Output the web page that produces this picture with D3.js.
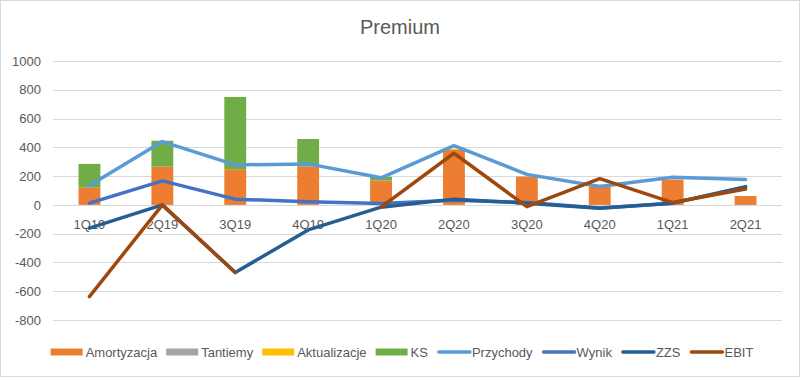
<!DOCTYPE html>
<html>
<head>
<meta charset="utf-8">
<script src="https://cdn.jsdelivr.net/npm/d3@7"></script>
<style>
  body { margin: 0; background: #fff; }
  text { font-family: "Liberation Sans", Arial, sans-serif; fill: #595959; }
</style>
</head>
<body>
<div id="chart"></div>
<script>
// categories
var kwartaly = ["1Q19", "2Q19", "3Q19", "4Q19", "1Q20", "2Q20", "3Q20", "4Q20", "1Q21", "2Q21"];

// series slupkowe (stacked)
var amortyzacja  = [120, 266, 248, 266, 169, 385, 197, 125, 176, 62];
var tantiemy     = [0, 0, 0, 0, 0, 0, 0, 0, 0, 0];
var aktualizacje = [0, 0, 0, 0, 0, 5, 0, 15, 0, 0];
var ks           = [165, 180, 502, 192, 26, 0, 0, 0, 0, 0];

// series liniowe
var przychody = [134, 440, 278, 285, 188, 412, 212, 128, 192, 176];
var wynik     = [12, 167, 40, 21, 10, 32, 17, -22, 12, 122];
var zzs       = [-162, 0, -470, -174, -16, 40, 12, -23, 12, 127];
var ebit      = [-637, 0, -470, null, -16, 359, -12, 182, 16, 110];

var yTicks = [-800, -600, -400, -200, 0, 200, 400, 600, 800, 1000];

var W = 801, H = 378;
var plot = {left: 53, right: 782, top: 61, bottom: 320};

var svg = d3.select("#chart").append("svg")
    .attr("width", W)
    .attr("height", H);

// ramka wykresu
svg.append("rect")
    .attr("x", 0.5).attr("y", 0.5)
    .attr("width", W - 2).attr("height", H - 2)
    .attr("fill", "#fff")
    .attr("stroke", "#d9d9d9");

// tytul
svg.append("text")
    .attr("x", 400)
    .attr("y", 34)
    .attr("text-anchor", "middle")
    .style("font-size", "20px")
    .text("Premium");

// skale
var x = d3.scaleBand().domain(kwartaly).range([plot.left, plot.right]);
var y = d3.scaleLinear().domain([-800, 1000]).range([plot.bottom, plot.top]);

// siatka
svg.append("g")
    .selectAll("line")
    .data(yTicks)
    .enter().append("line")
    .attr("x1", plot.left)
    .attr("x2", plot.right)
    .attr("y1", function(d) { return Math.round(y(d)) + 0.5; })
    .attr("y2", function(d) { return Math.round(y(d)) + 0.5; })
    .attr("stroke", "#d9d9d9")
    .attr("stroke-width", 1);

// os Y
var yAxis = svg.append("g")
    .attr("transform", "translate(" + plot.left + ",0)")
    .call(d3.axisLeft(y).tickValues(yTicks).tickSize(0).tickPadding(12)
        .tickFormat(function(d) { return String(d); }));
yAxis.select(".domain").remove();
yAxis.selectAll("text")
    .style("font-size", "13px")
    .attr("fill", "#595959");

// slupki
var serieSlupki = [
    {nazwa: "Amortyzacja", wartosci: amortyzacja, kolor: "#ED7D31"},
    {nazwa: "Tantiemy", wartosci: tantiemy, kolor: "#A5A5A5"},
    {nazwa: "Aktualizacje", wartosci: aktualizacje, kolor: "#FFC000"},
    {nazwa: "KS", wartosci: ks, kolor: "#70AD47"}
];

var tabela = kwartaly.map(function(k, i) {
    var row = {kw: k};
    serieSlupki.forEach(function(s) { row[s.nazwa] = s.wartosci[i]; });
    return row;
});
var stos = d3.stack().keys(serieSlupki.map(function(s) { return s.nazwa; }))(tabela);

var barW = x.bandwidth() * 0.3;
svg.append("g")
    .selectAll("g")
    .data(stos)
    .enter().append("g")
    .attr("fill", function(d, i) { return serieSlupki[i].kolor; })
    .selectAll("rect")
    .data(function(d) { return d; })
    .enter().append("rect")
    .attr("x", function(d) { return x(d.data.kw) + (x.bandwidth() - barW) / 2; })
    .attr("y", function(d) { return y(d[1]); })
    .attr("width", barW)
    .attr("height", function(d) { return y(d[0]) - y(d[1]); });

// etykiety kategorii (przy osi 0)
svg.append("g")
    .selectAll("text")
    .data(kwartaly)
    .enter().append("text")
    .attr("x", function(d) { return x(d) + x.bandwidth() / 2; })
    .attr("y", y(0) + 24)
    .attr("text-anchor", "middle")
    .style("font-size", "13px")
    .text(function(d) { return d; });

// linie
var serieLinie = [
    {nazwa: "Przychody", wartosci: przychody, kolor: "#5B9BD5"},
    {nazwa: "Wynik", wartosci: wynik, kolor: "#4472C4"},
    {nazwa: "ZZS", wartosci: zzs, kolor: "#255E91"},
    {nazwa: "EBIT", wartosci: ebit, kolor: "#9E480E"}
];

var linia = d3.line()
    .defined(function(d) { return d != null; })
    .x(function(d, i) { return x(kwartaly[i]) + x.bandwidth() / 2; })
    .y(function(d) { return y(d); });

svg.append("g")
    .selectAll("path")
    .data(serieLinie)
    .enter().append("path")
    .attr("d", function(d) { return linia(d.wartosci); })
    .attr("fill", "none")
    .attr("stroke", function(d) { return d.kolor; })
    .attr("stroke-width", 3.5)
    .attr("stroke-linejoin", "round")
    .attr("stroke-linecap", "round");

// legenda
var legenda = serieSlupki.map(function(s) { return {nazwa: s.nazwa, kolor: s.kolor, typ: "bar"}; })
    .concat(serieLinie.map(function(s) { return {nazwa: s.nazwa, kolor: s.kolor, typ: "line"}; }));

var leg = svg.append("g");
var items = leg.selectAll("g")
    .data(legenda)
    .enter().append("g");

items.append("text")
    .attr("x", 35)
    .attr("y", 0)
    .attr("dy", "0.35em")
    .style("font-size", "13px")
    .text(function(d) { return d.nazwa; });

items.each(function(d) {
    var g = d3.select(this);
    if (d.typ === "bar") {
        g.append("rect")
            .attr("x", 0).attr("y", -3.5)
            .attr("width", 32).attr("height", 7)
            .attr("fill", d.kolor);
    } else {
        g.append("line")
            .attr("x1", 2).attr("x2", 33)
            .attr("y1", 0).attr("y2", 0)
            .attr("stroke", d.kolor)
            .attr("stroke-width", 3.5)
            .attr("stroke-linecap", "round");
    }
});

var szer = [];
items.each(function() {
    szer.push(35 + d3.select(this).select("text").node().getComputedTextLength());
});
var odstep = 9;
var razem = d3.sum(szer) + odstep * (szer.length - 1);
var pozX = 402 - razem / 2;
items.attr("transform", function(d, i) {
    var t = "translate(" + pozX + ",352)";
    pozX += szer[i] + odstep;
    return t;
});
</script>
</body>
</html>
